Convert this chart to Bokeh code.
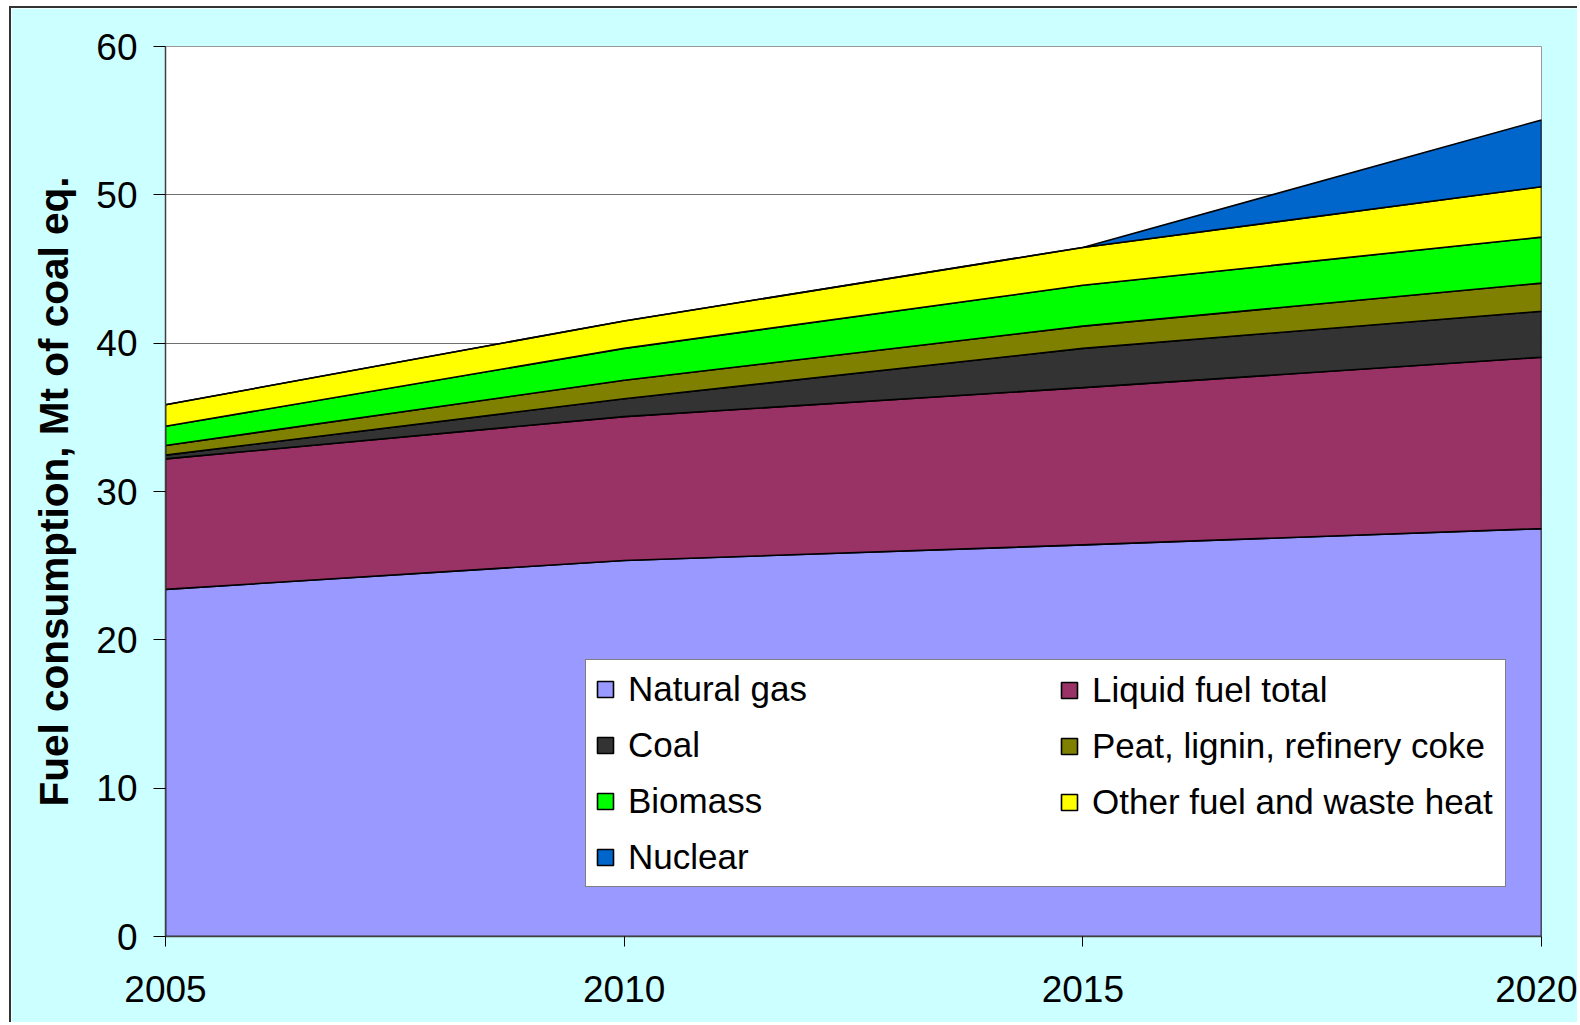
from bokeh.plotting import figure
from bokeh.models import Legend, LegendItem, FixedTicker, Range1d
from bokeh.embed import file_html
from bokeh.resources import INLINE

# ---- data (Mt of coal equivalent) ----
years = [2005, 2010, 2015, 2020]
natural_gas = [23.4, 25.35, 26.4, 27.5]
liquid_fuel = [8.8, 9.7, 10.6, 11.55]
coal = [0.25, 1.2, 2.65, 3.1]
peat_lignin_coke = [0.65, 1.25, 1.5, 1.9]
biomass = [1.3, 2.15, 2.75, 3.1]
other_fuel = [1.45, 1.85, 2.55, 3.4]
nuclear = [0.0, 0.0, 0.0, 4.5]

series_names = ["Natural gas", "Liquid fuel total", "Coal", "Peat, lignin, refinery coke",
                "Biomass", "Other fuel and waste heat", "Nuclear"]
series_values = [natural_gas, liquid_fuel, coal, peat_lignin_coke, biomass, other_fuel, nuclear]
series_colors = ["#9999FF", "#993366", "#333333", "#808000", "#00FF00", "#FFFF00", "#0066CC"]

y_ticks = [0, 10, 20, 30, 40, 50, 60]
x_ticks = [2005, 2010, 2015, 2020]

FONT = "Liberation Sans"

p = figure(width=1568, height=1016, output_backend="svg", toolbar_location=None,
           x_range=Range1d(2005, 2020), y_range=Range1d(0, 60),
           min_border_left=154, min_border_top=38, min_border_right=38, min_border_bottom=88,
           background_fill_color="white", border_fill_color="#CCFFFF",
           styles={"margin-left": "9px", "margin-top": "6px",
                   "border-left": "2px solid #333333", "border-top": "2px solid #333333"})

# stacked areas
lower = [0.0] * len(years)
renderers = []
for name, vals, col in zip(series_names, series_values, series_colors):
    upper = [a + b for a, b in zip(lower, vals)]
    xs = years + years[::-1]
    ys = upper + lower[::-1]
    r = p.patch(xs, ys, fill_color=col, line_color="black", line_width=1.6)
    renderers.append(r)
    lower = upper

# axes
p.xaxis.ticker = FixedTicker(ticks=x_ticks)
p.yaxis.ticker = FixedTicker(ticks=y_ticks)
for ax in (p.xaxis[0], p.yaxis[0]):
    ax.major_label_text_font = FONT
    ax.major_label_text_font_size = "37px"
    ax.major_label_text_color = "black"
    ax.minor_tick_line_color = None
    ax.major_tick_in = 0
    ax.major_tick_line_color = "black"
    ax.axis_line_color = "#404040"
    ax.axis_line_width = 1.5
p.xaxis.major_tick_out = 10
p.yaxis.major_tick_out = 12
p.xaxis.major_label_standoff = 29
p.yaxis.major_label_standoff = 16
p.yaxis.axis_label = "Fuel consumption, Mt of coal eq."
p.yaxis.axis_label_text_font = FONT
p.yaxis.axis_label_text_font_style = "bold"
p.yaxis.axis_label_text_font_size = "40.5px"
p.yaxis.axis_label_text_color = "black"
p.yaxis.axis_label_standoff = 16

p.xgrid.grid_line_color = None
p.ygrid.grid_line_color = "#707070"
p.ygrid.grid_line_width = 1.2
p.outline_line_color = "#999999"
p.outline_line_width = 1

# legend: left column (with box) and right column (overlay)
left_idx = [0, 2, 4, 6]
right_idx = [1, 3, 5]

def make_legend(idx, loc, boxed):
    items = [LegendItem(label=series_names[i], renderers=[renderers[i]]) for i in idx]
    lg = Legend(items=items, location=loc, orientation="vertical",
                label_text_font=FONT, label_text_font_size="35px", label_text_color="black",
                glyph_width=20, glyph_height=20, label_standoff=13, spacing=16, padding=9,
                margin=0)
    if boxed:
        lg.border_line_color = "black"
        lg.border_line_width = 1
        lg.background_fill_color = "white"
        lg.background_fill_alpha = 1.0
        lg.label_width = 868
    else:
        lg.border_line_color = None
        lg.background_fill_alpha = 0.0
    return lg

p.add_layout(make_legend(left_idx, (420, 49), True), "center")
p.add_layout(make_legend(right_idx, (894, 114), False), "center")

open("out.html", "w").write(file_html(p, INLINE))
